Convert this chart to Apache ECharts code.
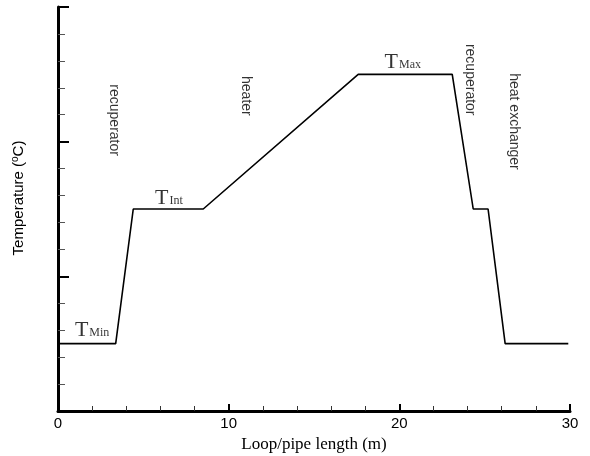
<!DOCTYPE html>
<html>
<head>
<meta charset="utf-8">
<script src="https://cdn.jsdelivr.net/npm/echarts@6/dist/echarts.min.js"></script>
<style>
  html, body { margin: 0; padding: 0; background: #fff; }
  #chart { width: 590px; height: 456px; }
</style>
</head>
<body>
<div id="chart"></div>
<script>
// temperature profile along the loop (x in m, y in axis units)
const loopX = [0, 3.38, 4.41, 8.51, 17.59, 23.1, 24.33, 25.2, 26.2, 29.9];
const loopT = [0.5, 0.5, 1.5, 1.5, 2.5, 2.5, 1.5, 1.5, 0.5, 0.5];

// level labels
const levelNames = ['Min', 'Int', 'Max'];
const levelX = [2.0, 6.5, 20.2];
const levelY = [0.6, 1.58, 2.59];

// component labels (vertical text)
const partNames = ['recuperator', 'heater', 'recuperator', 'heat exchanger'];
const partX = [3.26, 11.0, 24.15, 26.7];
const partY = [2.16, 2.34, 2.46, 2.15];

const xTicks = [0, 10, 20, 30];

const chart = echarts.init(document.getElementById('chart'));

const axisLine = { show: true, lineStyle: { color: '#000', width: 3 } };

const option = {
    animation: false,
    backgroundColor: '#fff',
    grid: { left: 58, right: 20, top: 7, bottom: 45, outerBoundsMode: 'none' },
    xAxis: {
        type: 'value',
        min: xTicks[0],
        max: xTicks[xTicks.length - 1],
        interval: 10,
        name: 'Loop/pipe length (m)',
        nameLocation: 'middle',
        nameGap: 25,
        nameTextStyle: { fontFamily: 'Liberation Serif', fontSize: 17, color: '#000' },
        axisLine: axisLine,
        axisTick: { inside: true, length: 7, lineStyle: { color: '#000', width: 2 } },
        minorTick: { show: true, splitNumber: 5, length: 5, lineStyle: { color: '#333', width: 1 } },
        axisLabel: { fontFamily: 'Liberation Sans', fontSize: 15, color: '#000', margin: 5 },
        splitLine: { show: false }
    },
    yAxis: {
        type: 'value',
        min: 0,
        max: 3,
        interval: 1,
        name: 'Temperature ({sup|o}C)',
        nameLocation: 'middle',
        nameGap: 31,
        nameRotate: 90,
        nameTextStyle: {
            fontFamily: 'Liberation Sans', fontSize: 15, color: '#000',
            padding: [0, 0, 0, 22],
            rich: { sup: { fontFamily: 'Liberation Sans', fontSize: 10, color: '#000', padding: [0, 0, 7, 0] } }
        },
        axisLine: axisLine,
        axisTick: { inside: true, length: 11, lineStyle: { color: '#000', width: 2 } },
        minorTick: { show: true, splitNumber: 5, length: 7, lineStyle: { color: '#555', width: 1 } },
        axisLabel: { show: false },
        splitLine: { show: false }
    },
    series: [
        {
            type: 'line',
            data: loopX.map((x, i) => [x, loopT[i]]),
            symbol: 'none',
            lineStyle: { color: '#000', width: 1.6 },
            z: 3
        },
        {
            type: 'scatter',
            symbolSize: 0,
            data: levelNames.map((n, i) => ({ name: n, value: [levelX[i], levelY[i]] })),
            label: {
                show: true,
                position: 'inside',
                formatter: p => '{t|T}{s|' + p.name + '}',
                rich: {
                    t: { fontFamily: 'Liberation Serif', fontSize: 22, color: '#000', verticalAlign: 'bottom' },
                    s: { fontFamily: 'Liberation Serif', fontSize: 12, color: '#000', verticalAlign: 'bottom', padding: [0, 0, 2, 1] }
                }
            }
        },
        {
            type: 'scatter',
            symbolSize: 0,
            data: partNames.map((n, i) => ({ name: n, value: [partX[i], partY[i]] })),
            label: {
                show: true,
                position: 'inside',
                rotate: -90,
                formatter: p => p.name,
                fontFamily: 'Liberation Sans',
                fontSize: 14,
                color: '#000'
            }
        }
    ]
};

chart.setOption(option);
</script>
</body>
</html>
